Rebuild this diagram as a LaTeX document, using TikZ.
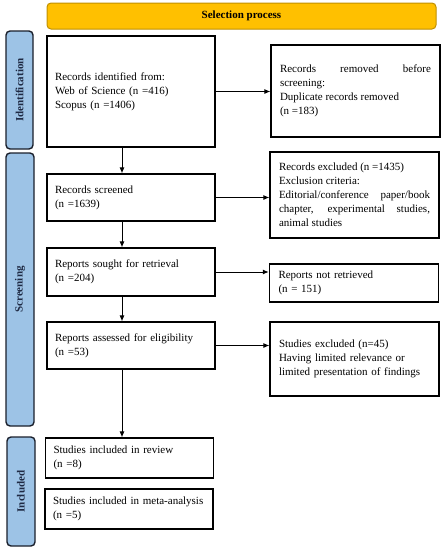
\documentclass[tikz,border=0pt]{standalone}
\usepackage{fontspec}
\setmainfont{Liberation Serif}
\usetikzlibrary{arrows.meta,calc}
\definecolor{gold}{HTML}{FFC000}
\definecolor{golddark}{HTML}{C09000}
\definecolor{sideblue}{HTML}{9DC3E6}
\definecolor{sidedark}{HTML}{1A1F2B}
\definecolor{sidetext}{HTML}{1F2A44}
\begin{document}
\hyphenpenalty=10000
\exhyphenpenalty=10000
\begin{tikzpicture}[x=1pt,y=-1pt,
  txt/.style={font=\fontsize{11}{14}\selectfont},
  lbox/.style={draw, line width=1.1pt, txt, text width=152pt, inner xsep=8pt, inner ysep=0pt, align=left},
  rbox/.style={draw, line width=1.1pt, txt, text width=151pt, inner xsep=9pt, inner ysep=0pt, align=justify},
  side/.style={draw=sidedark, fill=sideblue, line width=1.4pt, rounded corners=4pt, rotate=90,
     font=\fontsize{11}{13}\selectfont\bfseries, text=sidetext, inner sep=0pt},
  arr/.style={line width=1pt, -{Latex[length=6pt,width=5pt]}}
]
\useasboundingbox (0,0) rectangle (445,550);
\coordinate (spine) at (122,0);

% header
\node[draw=golddark, fill=gold, line width=1pt, rounded corners=4pt, minimum width=389pt, minimum height=26pt,
      font=\fontsize{11}{13}\selectfont\bfseries, inner sep=0pt] (head) at (241.5,16) {Selection process};

% side bars
\node[side, minimum width=118pt, minimum height=27pt] (sident) at (19.5,90) {Identification};
\node[side, minimum width=273pt, minimum height=28pt] (sscreen) at (20,289.5) {Screening};
\node[side, minimum width=109pt, minimum height=28pt] (sincl) at (21,491.5) {Included};

% left column
\node[lbox, minimum height=111pt] (ident) at (131,91.5) {Records identified from:\\Web of Science (n =416)\\Scopus (n =1406)};
\node[lbox, minimum height=47pt] (screened) at (131,197.5) {Records screened\\(n =1639)};
\node[lbox, minimum height=48pt] (sought) at (131,272) {Reports sought for retrieval\\(n =204)};
\node[lbox, minimum height=47pt] (assessed) at (131,345.5) {Reports assessed for eligibility\\(n =53)};
\node[lbox, minimum height=40pt] (review) at (129.5,458) {Studies included in review\\(n =8)};
\node[lbox, minimum height=40pt] (meta) at (129,509) {Studies included in meta-analysis\\(n =5)};

% right column
\node[rbox, minimum height=92pt] (removed) at (355.5,91) {Records removed before screening:\\Duplicate records removed\\(n =183)};
\node[rbox, minimum height=86pt] (excluded) at (354.5,195) {Records excluded (n =1435)\\Exclusion criteria:\\Editorial/conference paper/book chapter, experimental studies, animal studies};
\node[rbox, minimum height=38pt, line width=1.4pt, align=left] (notret) at (354,283) {Reports not retrieved\\(n = 151)};
\node[rbox, minimum height=74pt, align=left] (stexcl) at (354.5,359) {Studies excluded (n=45)\\Having limited relevance or\\limited presentation of findings};

% connectors
\draw[arr] (ident.east) -- (ident.east -| removed.west);
\draw[arr] (screened.east) -- (screened.east -| excluded.west);
\draw[arr] (sought.east) -- (sought.east -| notret.west);
\draw[arr] (assessed.east) -- (assessed.east -| stexcl.west);

\draw[arr] (ident.south -| spine) -- (screened.north -| spine);
\draw[arr] (screened.south -| spine) -- (sought.north -| spine);
\draw[arr] (sought.south -| spine) -- (assessed.north -| spine);
\draw[arr] (assessed.south -| spine) -- (review.north -| spine);
\end{tikzpicture}
\end{document}
